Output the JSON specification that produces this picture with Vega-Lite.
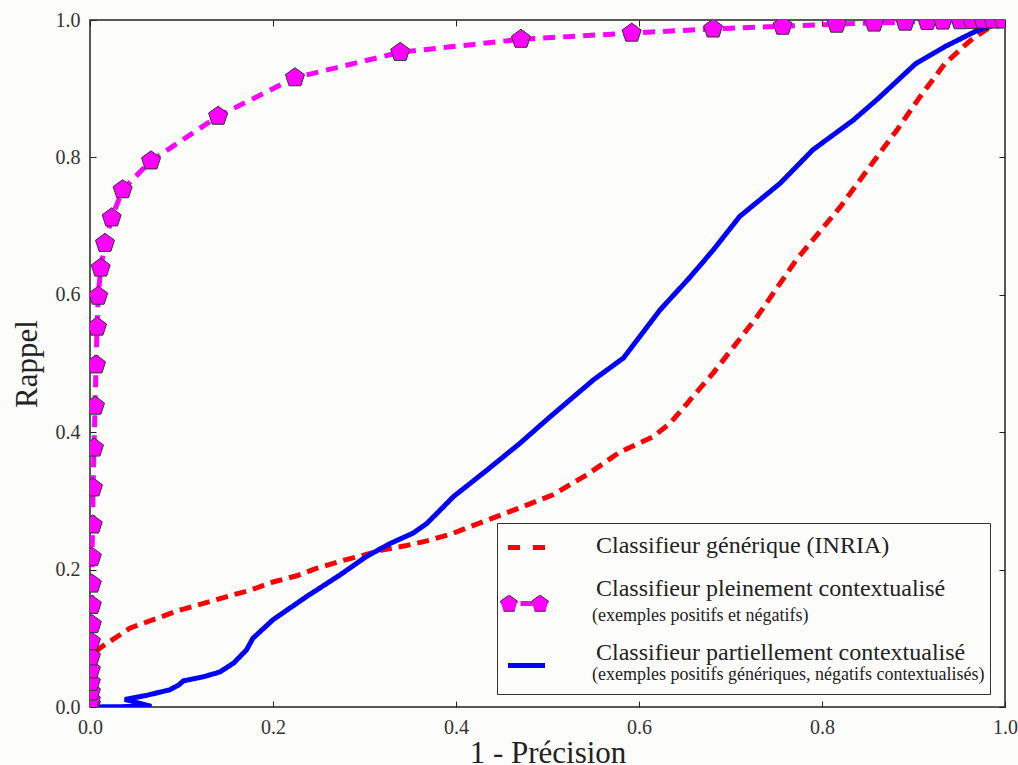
{
  "$schema": "https://vega.github.io/schema/vega-lite/v6.json",
  "width": 915,
  "height": 687,
  "autosize": {"type": "none"},
  "padding": {"left": 90, "top": 20, "right": 13, "bottom": 58},
  "background": "#fcfcfa",
  "config": {
    "view": {"stroke": "#222222", "strokeWidth": 1.5, "fill": "#fdfdfb"},
    "font": "Liberation Serif"
  },
  "data": {
    "values": [
      {"serie": "gen", "i": 0, "x": 0.006, "y": 0.080},
      {"serie": "gen", "i": 1, "x": 0.011, "y": 0.086},
      {"serie": "gen", "i": 2, "x": 0.044, "y": 0.115},
      {"serie": "gen", "i": 3, "x": 0.098, "y": 0.141},
      {"serie": "gen", "i": 4, "x": 0.153, "y": 0.162},
      {"serie": "gen", "i": 5, "x": 0.175, "y": 0.170},
      {"serie": "gen", "i": 6, "x": 0.200, "y": 0.182},
      {"serie": "gen", "i": 7, "x": 0.226, "y": 0.191},
      {"serie": "gen", "i": 8, "x": 0.248, "y": 0.202},
      {"serie": "gen", "i": 9, "x": 0.273, "y": 0.212},
      {"serie": "gen", "i": 10, "x": 0.299, "y": 0.221},
      {"serie": "gen", "i": 11, "x": 0.321, "y": 0.229},
      {"serie": "gen", "i": 12, "x": 0.346, "y": 0.235},
      {"serie": "gen", "i": 13, "x": 0.372, "y": 0.243},
      {"serie": "gen", "i": 14, "x": 0.397, "y": 0.253},
      {"serie": "gen", "i": 15, "x": 0.434, "y": 0.272},
      {"serie": "gen", "i": 16, "x": 0.470, "y": 0.290},
      {"serie": "gen", "i": 17, "x": 0.506, "y": 0.309},
      {"serie": "gen", "i": 18, "x": 0.543, "y": 0.338},
      {"serie": "gen", "i": 19, "x": 0.579, "y": 0.371},
      {"serie": "gen", "i": 20, "x": 0.615, "y": 0.393},
      {"serie": "gen", "i": 21, "x": 0.634, "y": 0.413},
      {"serie": "gen", "i": 22, "x": 0.681, "y": 0.486},
      {"serie": "gen", "i": 23, "x": 0.729, "y": 0.568},
      {"serie": "gen", "i": 24, "x": 0.772, "y": 0.651},
      {"serie": "gen", "i": 25, "x": 0.820, "y": 0.728},
      {"serie": "gen", "i": 26, "x": 0.863, "y": 0.806},
      {"serie": "gen", "i": 27, "x": 0.882, "y": 0.840},
      {"serie": "gen", "i": 28, "x": 0.907, "y": 0.888},
      {"serie": "gen", "i": 29, "x": 0.934, "y": 0.936},
      {"serie": "gen", "i": 30, "x": 0.962, "y": 0.970},
      {"serie": "gen", "i": 31, "x": 0.984, "y": 0.990},
      {"serie": "gen", "i": 32, "x": 0.998, "y": 0.997},

      {"serie": "plein", "i": 0, "x": 0.000, "y": 0.000},
      {"serie": "plein", "i": 1, "x": 0.001, "y": 0.004},
      {"serie": "plein", "i": 2, "x": 0.001, "y": 0.010},
      {"serie": "plein", "i": 3, "x": 0.001, "y": 0.022},
      {"serie": "plein", "i": 4, "x": 0.001, "y": 0.036},
      {"serie": "plein", "i": 5, "x": 0.001, "y": 0.054},
      {"serie": "plein", "i": 6, "x": 0.001, "y": 0.073},
      {"serie": "plein", "i": 7, "x": 0.001, "y": 0.095},
      {"serie": "plein", "i": 8, "x": 0.002, "y": 0.120},
      {"serie": "plein", "i": 9, "x": 0.002, "y": 0.148},
      {"serie": "plein", "i": 10, "x": 0.002, "y": 0.179},
      {"serie": "plein", "i": 11, "x": 0.002, "y": 0.218},
      {"serie": "plein", "i": 12, "x": 0.003, "y": 0.265},
      {"serie": "plein", "i": 13, "x": 0.0033, "y": 0.319},
      {"serie": "plein", "i": 14, "x": 0.0044, "y": 0.377},
      {"serie": "plein", "i": 15, "x": 0.0055, "y": 0.438},
      {"serie": "plein", "i": 16, "x": 0.0066, "y": 0.498},
      {"serie": "plein", "i": 17, "x": 0.0077, "y": 0.553},
      {"serie": "plein", "i": 18, "x": 0.009, "y": 0.598},
      {"serie": "plein", "i": 19, "x": 0.0117, "y": 0.639},
      {"serie": "plein", "i": 20, "x": 0.0164, "y": 0.675},
      {"serie": "plein", "i": 21, "x": 0.0237, "y": 0.712},
      {"serie": "plein", "i": 22, "x": 0.0357, "y": 0.753},
      {"serie": "plein", "i": 23, "x": 0.0667, "y": 0.795},
      {"serie": "plein", "i": 24, "x": 0.140, "y": 0.860},
      {"serie": "plein", "i": 25, "x": 0.224, "y": 0.916},
      {"serie": "plein", "i": 26, "x": 0.339, "y": 0.953},
      {"serie": "plein", "i": 27, "x": 0.471, "y": 0.972},
      {"serie": "plein", "i": 28, "x": 0.592, "y": 0.981},
      {"serie": "plein", "i": 29, "x": 0.681, "y": 0.987},
      {"serie": "plein", "i": 30, "x": 0.757, "y": 0.991},
      {"serie": "plein", "i": 31, "x": 0.816, "y": 0.994},
      {"serie": "plein", "i": 32, "x": 0.857, "y": 0.9956},
      {"serie": "plein", "i": 33, "x": 0.891, "y": 0.997},
      {"serie": "plein", "i": 34, "x": 0.915, "y": 0.998},
      {"serie": "plein", "i": 35, "x": 0.932, "y": 0.9985},
      {"serie": "plein", "i": 36, "x": 0.951, "y": 0.999},
      {"serie": "plein", "i": 37, "x": 0.964, "y": 0.9995},
      {"serie": "plein", "i": 38, "x": 0.976, "y": 1.0},
      {"serie": "plein", "i": 39, "x": 0.987, "y": 1.0},
      {"serie": "plein", "i": 40, "x": 0.998, "y": 1.0},

      {"serie": "partiel", "i": 0, "x": 0.000, "y": 0.000},
      {"serie": "partiel", "i": 1, "x": 0.067, "y": 0.001},
      {"serie": "partiel", "i": 2, "x": 0.038, "y": 0.011},
      {"serie": "partiel", "i": 3, "x": 0.062, "y": 0.017},
      {"serie": "partiel", "i": 4, "x": 0.087, "y": 0.025},
      {"serie": "partiel", "i": 5, "x": 0.097, "y": 0.032},
      {"serie": "partiel", "i": 6, "x": 0.102, "y": 0.038},
      {"serie": "partiel", "i": 7, "x": 0.124, "y": 0.044},
      {"serie": "partiel", "i": 8, "x": 0.142, "y": 0.051},
      {"serie": "partiel", "i": 9, "x": 0.157, "y": 0.064},
      {"serie": "partiel", "i": 10, "x": 0.171, "y": 0.083},
      {"serie": "partiel", "i": 11, "x": 0.178, "y": 0.100},
      {"serie": "partiel", "i": 12, "x": 0.200, "y": 0.127},
      {"serie": "partiel", "i": 13, "x": 0.237, "y": 0.161},
      {"serie": "partiel", "i": 14, "x": 0.273, "y": 0.192},
      {"serie": "partiel", "i": 15, "x": 0.302, "y": 0.219},
      {"serie": "partiel", "i": 16, "x": 0.328, "y": 0.238},
      {"serie": "partiel", "i": 17, "x": 0.353, "y": 0.253},
      {"serie": "partiel", "i": 18, "x": 0.368, "y": 0.267},
      {"serie": "partiel", "i": 19, "x": 0.383, "y": 0.287},
      {"serie": "partiel", "i": 20, "x": 0.397, "y": 0.306},
      {"serie": "partiel", "i": 21, "x": 0.434, "y": 0.345},
      {"serie": "partiel", "i": 22, "x": 0.470, "y": 0.384},
      {"serie": "partiel", "i": 23, "x": 0.499, "y": 0.418},
      {"serie": "partiel", "i": 24, "x": 0.550, "y": 0.476},
      {"serie": "partiel", "i": 25, "x": 0.583, "y": 0.508},
      {"serie": "partiel", "i": 26, "x": 0.623, "y": 0.578},
      {"serie": "partiel", "i": 27, "x": 0.656, "y": 0.626},
      {"serie": "partiel", "i": 28, "x": 0.681, "y": 0.665},
      {"serie": "partiel", "i": 29, "x": 0.710, "y": 0.714},
      {"serie": "partiel", "i": 30, "x": 0.754, "y": 0.762},
      {"serie": "partiel", "i": 31, "x": 0.790, "y": 0.811},
      {"serie": "partiel", "i": 32, "x": 0.834, "y": 0.854},
      {"serie": "partiel", "i": 33, "x": 0.860, "y": 0.884},
      {"serie": "partiel", "i": 34, "x": 0.902, "y": 0.936},
      {"serie": "partiel", "i": 35, "x": 0.934, "y": 0.961},
      {"serie": "partiel", "i": 36, "x": 0.967, "y": 0.983},
      {"serie": "partiel", "i": 37, "x": 0.998, "y": 0.997}
    ]
  },
  "layer": [
    {
      "mark": {"type": "line", "strokeWidth": 5, "clip": true},
      "encoding": {
        "x": {
          "field": "x", "type": "quantitative",
          "scale": {"domain": [0, 1], "nice": false, "zero": false},
          "axis": {
            "orient": "bottom", "values": [0, 0.2, 0.4, 0.6, 0.8, 1.0], "format": ".1f",
            "title": "1 - Précision", "titleFont": "Liberation Serif", "titleFontSize": 31,
            "titleFontWeight": "normal", "titleColor": "#222222", "titlePadding": 1,
            "labelFont": "Liberation Serif", "labelFontSize": 20, "labelColor": "#333333",
            "labelPadding": 16, "labelFlush": false, "labelOverlap": false,
            "tickSize": -6, "tickColor": "#222222", "tickWidth": 1,
            "domain": false, "grid": false
          }
        },
        "y": {
          "field": "y", "type": "quantitative",
          "scale": {"domain": [0, 1], "nice": false, "zero": false},
          "axis": {
            "orient": "left", "values": [0, 0.2, 0.4, 0.6, 0.8, 1.0], "format": ".1f",
            "title": "Rappel", "titleFont": "Liberation Serif", "titleFontSize": 31,
            "titleFontWeight": "normal", "titleColor": "#222222", "titlePadding": 12,
            "labelFont": "Liberation Serif", "labelFontSize": 20, "labelColor": "#333333",
            "labelPadding": 16, "labelFlush": false, "labelOverlap": false,
            "tickSize": -6, "tickColor": "#222222", "tickWidth": 1,
            "domain": false, "grid": false
          }
        },
        "color": {
          "field": "serie", "type": "nominal",
          "scale": {"domain": ["gen", "plein", "partiel", "zz"], "range": ["#ff0000", "#ff00ff", "#0000ff", "#000000"]},
          "legend": {
            "orient": "none", "legendX": 407, "legendY": 504.5, "direction": "vertical",
            "title": null, "padding": 5, "symbolSize": 1600, "symbolOffset": 2,
            "labelOffset": 47, "rowPadding": -19, "labelLimit": 0,
            "labelFont": "Liberation Serif", "labelFontSize": 24, "labelColor": "#222222",
            "labelBaseline": "alphabetic",
            "labelExpr": "datum.value == 'gen' ? 'Classifieur générique (INRIA)' : datum.value == 'plein' ? 'Classifieur pleinement contextualisé' : datum.value == 'partiel' ? 'Classifieur partiellement contextualisé' : ''",
            "encode": {
              "symbols": {
                "update": {
                  "shape": {"signal": "datum.value == 'gen' ? 'M-0.925,-0.225L-0.325,-0.225M0.325,-0.225L0.925,-0.225M0,-1.8M0,1.1' : datum.value == 'plein' ? 'M-0.3,-0.425L0.3,-0.425M0,-1.8M0,1.1' : datum.value == 'partiel' ? 'M-0.925,-0.325L0.925,-0.325M0,-1.8M0,1.1' : 'M0,-1.8M0,1.1'"},
                  "stroke": {"signal": "datum.value == 'gen' ? '#ff0000' : datum.value == 'plein' ? '#ff00ff' : '#0000ff'"},
                  "strokeWidth": {"value": 5},
                  "strokeDash": {"value": [1, 0]},
                  "fill": {"value": "transparent"},
                  "size": {"value": 1600},
                  "opacity": {"value": 1}
                }
              },
              "labels": {
                "update": {
                  "dy": {"signal": "datum.value == 'gen' ? 0.5 : datum.value == 'plein' ? -16.5 : datum.value == 'partiel' ? -12.5 : 0"}
                }
              }
            }
          }
        },
        "strokeDash": {
          "field": "serie", "type": "nominal",
          "scale": {"domain": ["gen", "plein", "partiel"], "range": [[12, 7], [12, 8], [1, 0]]},
          "legend": {
            "orient": "none", "legendX": 407, "legendY": 503, "direction": "vertical",
            "title": null, "padding": 5, "symbolSize": 1600, "symbolOffset": 2,
            "labelOffset": 47, "rowPadding": 4, "labelLimit": 0,
            "strokeColor": "#333333", "cornerRadius": 0,
            "labelFont": "Liberation Serif", "labelFontSize": 18, "labelColor": "#222222",
            "labelBaseline": "alphabetic",
            "labelExpr": "datum.value == 'plein' ? '(exemples positifs et négatifs)' : datum.value == 'partiel' ? '(exemples positifs génériques, négatifs contextualisés)' : ''",
            "encode": {
              "symbols": {
                "update": {
                  "shape": {"signal": "datum.value == 'plein' ? 'M-0.775,-0.525L-0.347,-0.214L-0.51,0.289L-1.04,0.289L-1.203,-0.214ZM0.775,-0.525L1.203,-0.214L1.04,0.289L0.51,0.289L0.347,-0.214ZM0,-1.225M0,1.225' : 'M0,-1.225M0,1.225'"},
                  "fill": {"value": "#ff00ff"},
                  "fillOpacity": {"value": 1},
                  "stroke": {"value": "#333333"},
                  "strokeWidth": {"value": 1},
                  "strokeDash": {"value": [1, 0]},
                  "size": {"value": 1600},
                  "opacity": {"value": 1}
                }
              },
              "labels": {
                "update": {
                  "dy": {"signal": "datum.value == 'plein' ? 15.5 : datum.value == 'partiel' ? 17.5 : 0"}
                }
              }
            }
          }
        },
        "order": {"field": "i", "type": "quantitative"}
      }
    },
    {
      "transform": [{"filter": "datum.serie == 'plein'"}],
      "mark": {
        "type": "point", "filled": true, "size": 400, "fill": "#ff00ff", "stroke": "#333333", "strokeWidth": 1, "opacity": 1, "clip": true,
        "shape": "M0,-1L0.951,-0.309L0.588,0.809L-0.588,0.809L-0.951,-0.309Z"
      },
      "encoding": {
        "x": {
          "field": "x", "type": "quantitative",
          "scale": {"domain": [0, 1], "nice": false, "zero": false},
          "axis": {
            "orient": "top", "values": [0, 0.2, 0.4, 0.6, 0.8, 1.0], "labels": false, "title": null,
            "tickSize": -6, "tickColor": "#222222", "tickWidth": 1, "domain": false, "grid": false
          }
        },
        "y": {
          "field": "y", "type": "quantitative",
          "scale": {"domain": [0, 1], "nice": false, "zero": false},
          "axis": {
            "orient": "right", "values": [0, 0.2, 0.4, 0.6, 0.8, 1.0], "labels": false, "title": null,
            "tickSize": -6, "tickColor": "#222222", "tickWidth": 1, "domain": false, "grid": false
          }
        }
      }
    }
  ],
  "resolve": {"axis": {"x": "independent", "y": "independent"}}
}
